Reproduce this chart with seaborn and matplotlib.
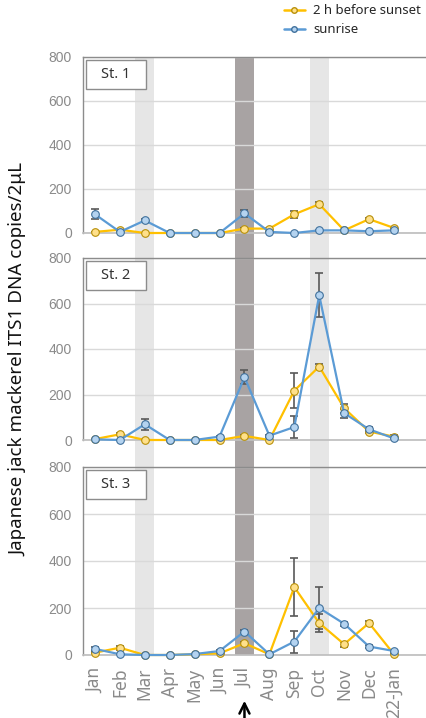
import matplotlib
matplotlib.use("Agg")
import matplotlib.pyplot as plt
from matplotlib.lines import Line2D
from matplotlib.patches import Rectangle
import seaborn as sns
import pandas as pd
import numpy as np

months = ['Jan', 'Feb', 'Mar', 'Apr', 'May', 'Jun', 'Jul', 'Aug', 'Sep', 'Oct', 'Nov', 'Dec', '22-Jan']
stations = ['St. 1', 'St. 2', 'St. 3']
series_names = ['2 h before sunset', 'sunrise']

st1_sunset = [5, 15, 0, 0, 0, 0, 20, 20, 85, 131, 12, 63, 23]
st1_sunset_err = [0, 5, 0, 0, 0, 0, 5, 3, 15, 10, 0, 5, 3]
st1_sunrise = [85, 5, 57, 0, 0, 0, 89, 5, 0, 12, 12, 8, 12]
st1_sunrise_err = [22, 3, 8, 0, 0, 0, 15, 0, 0, 3, 0, 0, 0]

st2_sunset = [4, 25, 0, 0, 0, 0, 18, 0, 217, 323, 140, 37, 15]
st2_sunset_err = [0, 5, 0, 0, 0, 0, 5, 0, 78, 13, 20, 5, 5]
st2_sunrise = [3, 0, 69, 0, 0, 15, 276, 19, 57, 636, 118, 47, 7]
st2_sunrise_err = [0, 0, 25, 0, 0, 3, 30, 5, 50, 97, 20, 8, 3]

st3_sunset = [10, 31, 0, 0, 3, 7, 50, 3, 289, 136, 46, 136, 3]
st3_sunset_err = [3, 8, 0, 0, 0, 0, 5, 0, 122, 38, 10, 8, 0]
st3_sunrise = [26, 3, 0, 0, 4, 17, 100, 3, 57, 200, 133, 36, 17]
st3_sunrise_err = [10, 0, 0, 0, 0, 3, 8, 0, 47, 90, 8, 5, 3]

light_months = ['Mar', 'Oct']
dark_months = ['Jul']
arrow_month = 'Jul'

sunset_vals = [st1_sunset, st2_sunset, st3_sunset]
sunset_errs = [st1_sunset_err, st2_sunset_err, st3_sunset_err]
sunrise_vals = [st1_sunrise, st2_sunrise, st3_sunrise]
sunrise_errs = [st1_sunrise_err, st2_sunrise_err, st3_sunrise_err]

rows = []
for s, st in enumerate(stations):
    for i, m in enumerate(months):
        rows.append(dict(station=st, pos=i, month=m, series=series_names[0],
                         value=sunset_vals[s][i], err=sunset_errs[s][i]))
        rows.append(dict(station=st, pos=i, month=m, series=series_names[1],
                         value=sunrise_vals[s][i], err=sunrise_errs[s][i]))
df = pd.DataFrame(rows)

sns.set_theme(style='white')
plt.rcParams['font.family'] = ['Noto Sans', 'DejaVu Sans']

styles = {
    series_names[0]: dict(color='#FFC000', mfc='#FFE08A', mec='#B8900A'),
    series_names[1]: dict(color='#5B9BD5', mfc='#B4D3F0', mec='#41719C'),
}

W, H = 427, 718
fig = plt.figure(figsize=(W / 100, H / 100), dpi=100)

left = 83 / W
right_px = 430
xlim = (-0.48, 12 + (right_px - 394) / 24.9)
panels_px = [(57, 233), (258, 440), (467, 655)]

# background axes for the shaded month bands spanning all panels
bg = fig.add_axes([left, 1 - 655 / H, (right_px - 83) / W, (655 - 57) / H], zorder=0)
bg.set_xlim(*xlim)
bg.set_ylim(0, 1)
bg.axis('off')
for m in light_months:
    p = months.index(m)
    bg.axvspan(p - 0.38, p + 0.38, color='#e6e6e6', lw=0)
for m in dark_months:
    p = months.index(m)
    bg.axvspan(p - 0.38, p + 0.38, color='#a8a3a3', lw=0)

axes = []
for k, (top, bot) in enumerate(panels_px):
    ph = bot - top
    pw = right_px - 83
    ax = fig.add_axes([left, 1 - bot / H, pw / W, ph / H], zorder=1)
    ax.patch.set_alpha(0)
    sub = df[df.station == stations[k]]
    for name in series_names:
        d = sub[sub.series == name]
        st = styles[name]
        ax.errorbar(d['pos'], d['value'], yerr=d['err'], fmt='none',
                    ecolor='#595959', elinewidth=1.2, capsize=3, capthick=1.2, zorder=2.5)
        sns.lineplot(data=d, x='pos', y='value', ax=ax, color=st['color'], lw=1.6,
                     marker='o', markersize=5.5, clip_on=False, zorder=3, legend=False)
        ln = ax.lines[-1]
        ln.set_markerfacecolor(st['mfc'])
        ln.set_markeredgecolor(st['mec'])
        ln.set_markeredgewidth(0.8)
    ax.set_xlim(*xlim)
    ax.set_ylim(0, 800)
    ax.set_yticks([0, 200, 400, 600, 800])
    ax.grid(axis='y', color='#d9d9d9', lw=1)
    ax.grid(axis='x', visible=False)
    ax.set_xlabel('')
    ax.set_ylabel('')
    for sp in ['top', 'left']:
        ax.spines[sp].set_color('#8c8c8c')
        ax.spines[sp].set_linewidth(1.0)
    ax.spines['bottom'].set_color('#bfbfbf')
    ax.spines['right'].set_visible(False)
    ax.tick_params(length=0, labelsize=10, labelcolor='#8a8a8a', pad=8)
    for lab in ax.get_yticklabels():
        lab.set_fontfamily(['Liberation Sans', 'DejaVu Sans'])
    ax.set_xticks(range(len(months)))
    if k < 2:
        ax.set_xticklabels([])
    else:
        ax.set_xticklabels(months, rotation=90, fontsize=12.5, color='#8a8a8a')
        ax.tick_params(axis='x', pad=9)
    # station label box (pixel placement converted to axes fraction)
    bx0, bx1 = (86 - 83) / pw, (146 - 83) / pw
    by_top, by_bot = 1 - 3 / ph, 1 - 32 / ph
    ax.add_patch(Rectangle((bx0, by_bot), bx1 - bx0, by_top - by_bot, transform=ax.transAxes,
                           fc='white', ec='#8c8c8c', lw=1.0, zorder=5, clip_on=False))
    ax.text((bx0 + bx1) / 2, (by_top + by_bot) / 2, stations[k], transform=ax.transAxes,
            ha='center', va='center', fontsize=10.5, color='#333333', zorder=6)
    axes.append(ax)

fig.text(18 / W, 1 - 359 / H, 'Japanese jack mackerel ITS1 DNA copies/2\u03bcL',
         rotation=90, ha='center', va='center', fontsize=13.5, color='#111111')

# arrow under Jul
ax3 = axes[2]
ax3.annotate('', xy=(months.index(arrow_month), 1 - 698 / H),
             xytext=(months.index(arrow_month), -0.02),
             xycoords=('data', 'figure fraction'), textcoords=('data', 'figure fraction'),
             arrowprops=dict(arrowstyle='->', color='black', lw=1.8, mutation_scale=18),
             annotation_clip=False)

handles = [Line2D([], [], color=styles[n]['color'], lw=1.8, marker='o', markersize=4,
                  markerfacecolor=styles[n]['mfc'], markeredgecolor=styles[n]['mec'])
           for n in series_names]
fig.legend(handles, series_names, loc='upper left', bbox_to_anchor=(276 / W, 1.005),
           frameon=False, fontsize=9.5, handlelength=1.6, handletextpad=0.6,
           labelspacing=0.45, borderaxespad=0.2)

fig.savefig('out.png', dpi=100)
